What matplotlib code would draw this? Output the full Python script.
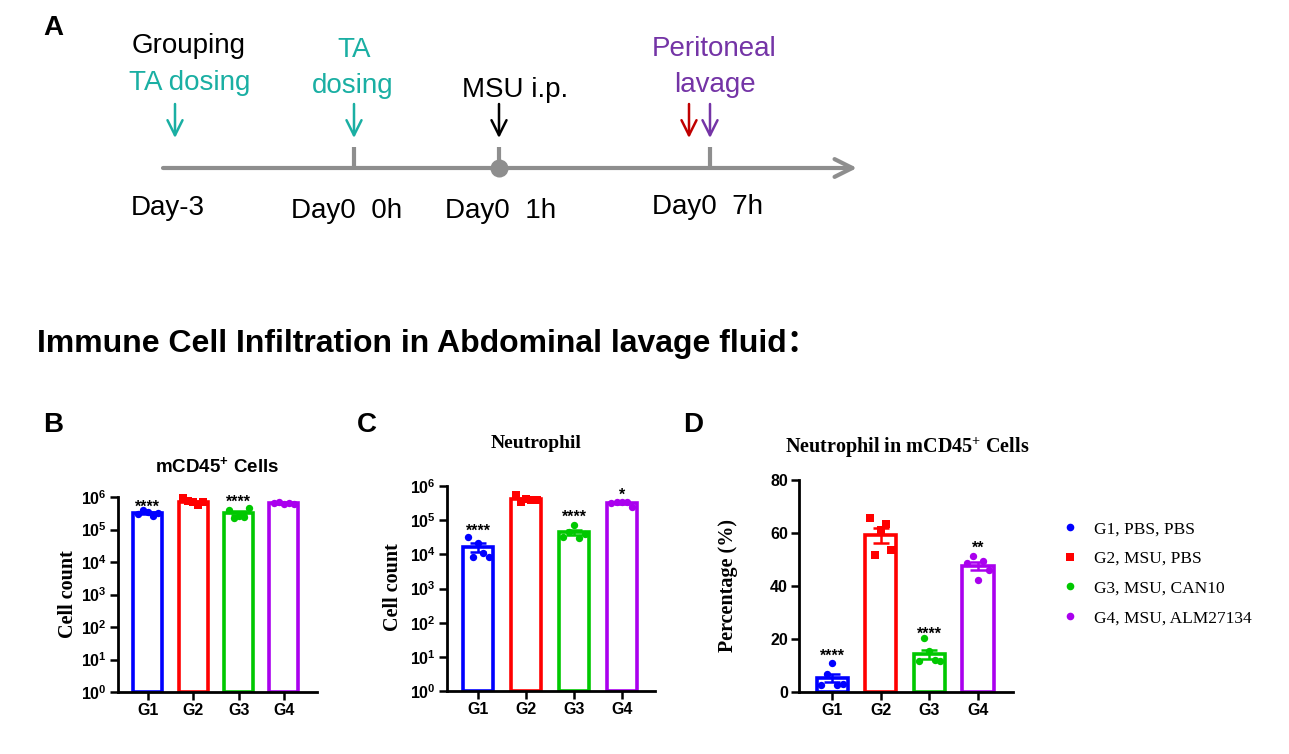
import matplotlib
matplotlib.use('Agg')
import matplotlib.pyplot as plt
import numpy as np
from matplotlib.lines import Line2D
from matplotlib.ticker import NullLocator

W, H = 1289, 754
SANS = 'Liberation Sans'
SERIF = 'Liberation Serif'

# ---------------- data ----------------
groups = ['G1', 'G2', 'G3', 'G4']
legend_labels = ['G1, PBS, PBS', 'G2, MSU, PBS', 'G3, MSU, CAN10', 'G4, MSU, ALM27134']
colors = ['#0000FF', '#FF0000', '#00C800', '#AA00EE']
markers = ['o', 's', 'o', 'o']

# Panel B: mCD45+ cell count
cd45_counts = [
    [3.0e5, 4.0e5, 3.5e5, 2.6e5, 3.3e5],
    [9.0e5, 7.4e5, 6.8e5, 5.8e5, 7.0e5],
    [4.0e5, 2.3e5, 2.6e5, 2.4e5, 4.7e5],
    [6.6e5, 7.0e5, 6.2e5, 6.4e5, 6.0e5],
]
cd45_sig = ['****', '', '****', '']
cd45_sig_y = [6.7e5, None, 9.8e5, None]

# Panel C: neutrophil count
neut_counts = [
    [3.3e4, 8.5e3, 2.2e4, 1.1e4, 8.5e3],
    [5.5e5, 3.3e5, 4.2e5, 3.8e5, 4.0e5],
    [3.2e4, 4.5e4, 7.2e4, 3.1e4, 4.0e4],
    [3.2e5, 3.3e5, 3.4e5, 3.3e5, 2.5e5],
]
neut_sig = ['****', '', '****', '*']
neut_sig_y = [6.5e4, None, 1.7e5, 7.2e5]

# Panel D: neutrophil percentage in mCD45+
neut_pct = [
    [2.6, 6.8, 10.8, 2.8, 3.0],
    [65.6, 51.7, 61.2, 63.5, 53.6],
    [11.7, 20.4, 15.5, 12.2, 11.7],
    [48.6, 51.4, 42.3, 49.5, 46.0],
]
pct_sig = ['****', '', '****', '**']
pct_sig_y = [15.3, None, 23.7, 56.0]

log_ticks = [1e0, 1e1, 1e2, 1e3, 1e4, 1e5, 1e6]
log_tick_labels = [r'$\mathregular{10^{%d}}$' % k for k in range(7)]
pct_ticks = [0, 20, 40, 60, 80]

# timeline (panel A)
timeline_days = ['Day-3', 'Day0  0h', 'Day0  1h', 'Day0  7h']

TEAL = '#1AAFA3'
PURP = '#7434A6'
DARKRED = '#C00000'
GRAY = '#8E8E8E'

fig = plt.figure(figsize=(W / 100, H / 100), dpi=100)
ax0 = fig.add_axes([0, 0, 1, 1])
ax0.set_xlim(0, W)
ax0.set_ylim(H, 0)
ax0.axis('off')


def px_box(l, t, r, b):
    return [l / W, 1 - b / H, (r - l) / W, (b - t) / H]


# ---------------- Panel A ----------------
ax0.text(43, 35, 'A', fontfamily=SANS, fontweight='bold', fontsize=20, ha='left', va='baseline')
ty = 168
ax0.annotate('', xy=(857, ty), xytext=(163, ty),
             arrowprops=dict(arrowstyle='->,head_length=0.4,head_width=0.2', color=GRAY, lw=3,
                             mutation_scale=32, shrinkA=0, shrinkB=0))
for tx in [354, 499, 710]:
    ax0.plot([tx, tx], [147, ty], color=GRAY, lw=3, solid_capstyle='butt')
ax0.plot([499], [ty], marker='o', markersize=13, color=GRAY, markeredgewidth=0)

for ax_x, c in [(175, TEAL), (354, TEAL), (499, 'black'), (689, DARKRED), (710, PURP)]:
    ax0.annotate('', xy=(ax_x, 138), xytext=(ax_x, 104),
                 arrowprops=dict(arrowstyle='->,head_length=0.4,head_width=0.2', color=c, lw=1.8,
                                 mutation_scale=27, shrinkA=0, shrinkB=0))

ftA = dict(fontfamily=SANS, fontsize=20, ha='center', va='baseline')
ax0.text(188.5, 53, 'Grouping', color='black', **ftA)
ax0.text(190, 90, 'TA dosing', color=TEAL, **ftA)
ax0.text(354, 57, 'TA', color=TEAL, **ftA)
ax0.text(353, 93, 'dosing', color=TEAL, **ftA)
ax0.text(515, 97, 'MSU i.p.', color='black', **ftA)
ax0.text(714.5, 56, 'Peritoneal', color=PURP, **ftA)
ax0.text(714.5, 92, 'lavage', color=PURP, **ftA)
for lab, (lx, ly) in zip(timeline_days, [(168, 215), (347, 218), (501, 218), (707, 214)]):
    ax0.text(lx, ly, lab, color='black', **ftA)

# ---------------- Section title ----------------
ax0.text(37, 352, 'Immune Cell Infiltration in Abdominal lavage fluid：',
         fontfamily=[SANS, 'Noto Sans CJK SC'], fontweight='bold', fontsize=23,
         ha='left', va='baseline')

# panel letters
for letter, lx in [('B', 43), ('C', 357), ('D', 683)]:
    ax0.text(lx, 432, letter, fontfamily=SANS, fontweight='bold', fontsize=20, ha='left', va='baseline')

offsets = np.array([-0.22, -0.11, 0.0, 0.11, 0.22])


def draw_panel(ax, data, log, xlim, sig, sig_y):
    for i, vals in enumerate(data):
        vals = np.asarray(vals, dtype=float)
        m = vals.mean()
        sem = vals.std(ddof=1) / np.sqrt(len(vals))
        base = 1.0 if log else 0.0
        ax.bar(i, m - base, bottom=base, width=0.64, facecolor='white',
               edgecolor=colors[i], linewidth=2.6, zorder=2)
        ax.errorbar(i, m, yerr=sem, fmt='none', ecolor=colors[i], elinewidth=1.8,
                    capsize=5.5, capthick=1.8, zorder=3)
        ax.scatter(i + offsets, vals, s=30 if markers[i] == 's' else 28, marker=markers[i],
                   color=colors[i], linewidths=0, zorder=4, clip_on=False)
        if sig[i]:
            ax.annotate(sig[i], xy=(i, sig_y[i]), xytext=(0, -3.5), textcoords='offset points',
                        ha='center', va='center', fontfamily=SANS, fontweight='bold', fontsize=11.5)
    if log:
        ax.set_yscale('log')
        ax.set_ylim(1, 1e6)
        ax.set_yticks(log_ticks)
        ax.set_yticklabels(log_tick_labels)
        ax.yaxis.set_minor_locator(NullLocator())
    else:
        ax.set_ylim(0, 80)
        ax.set_yticks(pct_ticks)
        ax.set_yticklabels([str(t) for t in pct_ticks])
    ax.set_xlim(*xlim)
    ax.set_xticks(range(len(groups)))
    ax.set_xticklabels(groups)
    ax.set_facecolor('none')
    for s in ['top', 'right']:
        ax.spines[s].set_visible(False)
    for s in ['left', 'bottom']:
        ax.spines[s].set_linewidth(2)
    ax.tick_params(direction='out', length=6, width=1.8, pad=2)
    for lab in ax.get_xticklabels() + ax.get_yticklabels():
        lab.set_fontfamily(SANS)
        lab.set_fontweight('bold')
        lab.set_fontsize(11.5)


axB = fig.add_axes(px_box(118, 497, 317, 692))
draw_panel(axB, cd45_counts, True, (-0.66, 3.73), cd45_sig, cd45_sig_y)
axC = fig.add_axes(px_box(447, 486, 655, 691))
draw_panel(axC, neut_counts, True, (-0.65, 3.69), neut_sig, neut_sig_y)
axD = fig.add_axes(px_box(799, 480, 1013, 692))
draw_panel(axD, neut_pct, False, (-0.68, 3.72), pct_sig, pct_sig_y)

# titles and axis labels
ax0.text(217, 472, r'mCD45$\mathregular{^{+}}$ Cells', fontfamily=SANS, fontweight='bold',
         fontsize=13.5, ha='center', va='baseline')
ax0.text(536, 448, 'Neutrophil', fontfamily=SERIF, fontweight='bold',
         fontsize=14, ha='center', va='baseline')
ax0.text(907, 453, r'Neutrophil in mCD45$\mathregular{^{+}}$ Cells', fontfamily=SERIF,
         fontweight='bold', fontsize=14.5, ha='center', va='baseline')
ylab = dict(fontfamily=SERIF, fontweight='bold', fontsize=14.5, rotation=90, ha='center', va='center')
ax0.text(68, 594, 'Cell count', **ylab)
ax0.text(393, 587, 'Cell count', **ylab)
ax0.text(728, 585, 'Percentage (%)', **ylab)

# legend
handles = [Line2D([], [], marker=markers[i], color=colors[i], linestyle='none',
                  markersize=5.5, markeredgewidth=0)
           for i in range(4)]
fig.legend(handles, legend_labels, loc='upper left', bbox_to_anchor=(1063 / W, 1 - 521 / H),
           frameon=False, prop={'family': SERIF, 'size': 12.5}, handlelength=0.8,
           handletextpad=1.0, labelspacing=0.78, borderpad=0, borderaxespad=0)

fig.savefig('out.png', dpi=100)
